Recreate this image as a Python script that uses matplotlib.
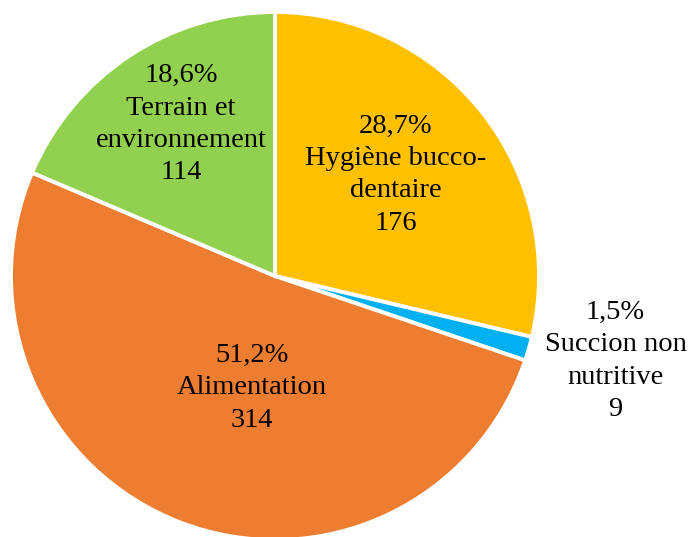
import matplotlib
matplotlib.use("Agg")
import matplotlib.pyplot as plt

categories = ["Hygiène bucco-\ndentaire", "Succion non\nnutritive", "Alimentation", "Terrain et\nenvironnement"]
values = [176, 9, 314, 114]
colors = ["#FFC000", "#00B0F0", "#ED7D31", "#92D050"]

W, H = 691, 537
cx, cy, R = 275, 276, 264

fig = plt.figure(figsize=(W / 100, H / 100), dpi=100)
ax = fig.add_axes([0, 0, 1, 1])
ax.pie(values, colors=colors, startangle=90, counterclock=False, radius=1,
       wedgeprops=dict(edgecolor="white", linewidth=2.8), frame=True)
ax.set_xlim(-cx / R, (W - cx) / R)
ax.set_ylim(-(H - cy) / R, cy / R)
ax.set_aspect("equal")
ax.axis("off")

# label positions (in radius units relative to pie centre)
label_pos = [(0.458, 0.383), (1.29, -0.322), (-0.087, -0.424), (-0.356, 0.575)]
total = sum(values)
for cat, v, (x, y) in zip(categories, values, label_pos):
    pct = f"{100 * v / total:.1f}".replace(".", ",") + "%"
    ax.text(x, y, f"{pct}\n{cat}\n{v}", ha="center", va="center",
            fontsize=20.5, family="Liberation Serif", linespacing=1.38, color="black")

fig.savefig("out.png", dpi=100)
